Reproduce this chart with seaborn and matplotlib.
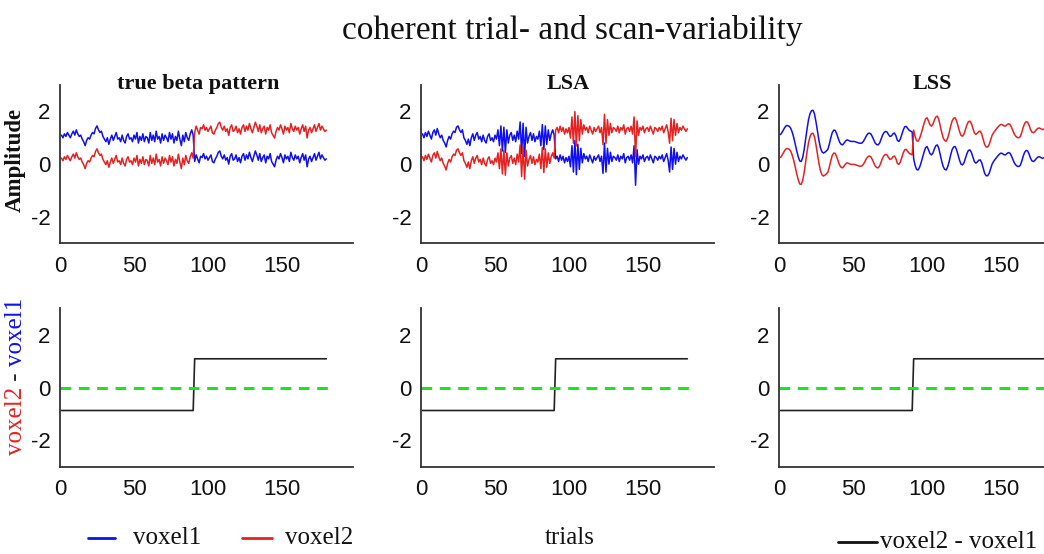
import numpy as np
import pandas as pd
import matplotlib
matplotlib.use("Agg")
import matplotlib.pyplot as plt
from matplotlib.lines import Line2D
import seaborn as sns

# ---------------- data ----------------
trials = list(range(1, 181))

# step difference voxel2 - voxel1 (first 90 trials, last 90 trials)
diff_first = -0.87
diff_second = 1.09
diff_true = [diff_first] * 90 + [diff_second] * 90

true_voxel1 = [
    1.10, 1.00, 1.15, 1.05, 1.20, 1.10, 1.00, 1.15, 1.25, 1.10,
    1.30, 1.15, 1.05, 1.10, 0.95, 0.85, 0.70, 0.90, 1.00, 0.95,
    1.10, 1.20, 1.15, 1.35, 1.45, 1.30, 1.20, 1.25, 1.05, 0.95,
    0.85, 1.00, 0.75, 0.95, 1.10, 0.90, 1.05, 1.20, 0.95, 1.00,
    0.85, 1.10, 0.90, 0.80, 1.05, 1.15, 0.95, 1.00, 0.85, 1.10,
    0.95, 1.20, 0.80, 1.05, 0.90, 1.15, 0.85, 1.05, 1.00, 0.80,
    1.20, 0.90, 1.10, 0.85, 1.25, 0.95, 1.05, 0.80, 1.15, 0.90,
    1.10, 1.00, 0.85, 1.20, 0.95, 1.15, 0.80, 1.05, 0.90, 1.25,
    0.95, 0.70, 1.10, 0.85, 1.20, 1.00, 0.90, 1.15, 1.30, 1.10,
    0.10, 0.35, 0.20, 0.05, 0.30, 0.25, 0.40, 0.20, 0.30, 0.15,
    0.25, 0.35, 0.10, 0.05, 0.20, 0.30, 0.45, 0.50, 0.30, 0.20,
    0.35, 0.15, 0.25, 0.00, 0.30, 0.40, 0.15, 0.20, 0.35, 0.10,
    0.25, 0.05, 0.30, 0.40, 0.15, 0.35, 0.20, 0.45, 0.25, 0.10,
    0.30, 0.50, 0.35, 0.15, 0.40, 0.10, 0.25, 0.35, 0.05, 0.30,
    0.20, 0.40, 0.10, 0.00, -0.10, 0.15, 0.30, 0.20, 0.40, 0.25,
    0.05, 0.35, 0.20, 0.30, 0.10, 0.45, 0.25, 0.15, 0.35, 0.20,
    0.30, 0.05, 0.25, 0.40, 0.15, 0.35, -0.10, 0.20, 0.30, 0.10,
    0.25, 0.40, 0.15, 0.30, 0.45, 0.20, 0.35, 0.25, 0.15, 0.20,
]

lsa_voxel1 = [
    1.15, 1.00, 1.20, 1.05, 1.25, 1.10, 0.95, 1.20, 1.30, 1.10,
    1.35, 1.15, 1.00, 1.10, 0.90, 0.80, 0.65, 0.90, 1.05, 0.95,
    1.15, 1.25, 1.20, 1.40, 1.45, 1.30, 1.20, 1.30, 1.00, 0.90,
    0.75, 0.95, 0.70, 1.00, 1.15, 0.90, 1.10, 1.20, 0.95, 1.05,
    0.85, 1.10, 0.90, 0.80, 1.05, 1.15, 0.90, 1.00, 0.85, 1.10,
    0.95, 1.30, 0.70, 1.45, 0.50, 1.40, 0.45, 1.30, 0.80, 1.10,
    1.20, 0.90, 1.10, 0.85, 1.25, 0.95, 1.60, 0.40, 1.55, 0.30,
    1.40, 0.80, 1.05, 1.20, 0.90, 1.15, 0.85, 1.05, 0.95, 1.25,
    0.70, 1.50, 0.55, 1.45, 0.75, 1.30, 0.90, 1.15, 1.30, 1.10,
    0.20, 0.30, 0.10, 0.35, 0.15, 0.30, 0.05, 0.25, 0.10, 0.30,
    -0.10, 0.70, -0.30, 0.90, -0.40, 0.75, -0.20, 0.60, 0.05, 0.40,
    0.20, 0.30, 0.10, 0.35, 0.20, 0.05, 0.30, 0.15, 0.25, 0.35,
    0.10, 0.30, -0.35, 0.80, -0.30, 0.60, 0.00, 0.45, 0.10, 0.30,
    0.25, 0.15, 0.35, 0.10, 0.30, 0.20, 0.40, 0.05, 0.25, 0.30,
    0.15, 0.35, 0.05, 0.70, -0.80, 0.55, 0.00, 0.30, 0.20, 0.35,
    0.10, 0.25, 0.30, 0.15, 0.35, 0.20, 0.05, 0.30, 0.25, 0.15,
    0.30, 0.20, 0.35, 0.10, 0.25, 0.40, 0.15, -0.30, 0.65, -0.20,
    0.60, 0.00, 0.45, 0.10, 0.30, 0.20, 0.35, 0.25, 0.15, 0.25,
]

lss_voxel1 = [
    1.12, 1.20, 1.30, 1.40, 1.46, 1.46, 1.43, 1.35, 1.20, 1.00,
    0.75, 0.50, 0.28, 0.12, 0.10, 0.25, 0.55, 0.95, 1.35, 1.70,
    1.92, 2.03, 2.04, 1.90, 1.60, 1.25, 0.90, 0.62, 0.47, 0.42,
    0.45, 0.50, 0.56, 0.75, 1.00, 1.20, 1.29, 1.28, 1.15, 0.98,
    0.83, 0.75, 0.73, 0.80, 0.88, 0.92, 0.90, 0.87, 0.86, 0.86,
    0.86, 0.84, 0.82, 0.80, 0.79, 0.80, 0.86, 0.96, 1.07, 1.15,
    1.18, 1.15, 1.05, 0.92, 0.80, 0.74, 0.73, 0.80, 0.95, 1.10,
    1.20, 1.24, 1.22, 1.12, 1.05, 1.07, 1.15, 1.18, 1.08, 0.90,
    0.86, 0.95, 1.12, 1.30, 1.42, 1.43, 1.35, 1.28, 1.25, 1.22,
    0.20, -0.05, -0.20, -0.22, -0.12, 0.05, 0.25, 0.45, 0.62, 0.67,
    0.55, 0.40, 0.35, 0.42, 0.58, 0.70, 0.73, 0.60, 0.35, 0.10,
    -0.10, -0.20, -0.22, -0.10, 0.10, 0.35, 0.55, 0.65, 0.67, 0.55,
    0.35, 0.15, 0.00, -0.03, 0.05, 0.22, 0.40, 0.52, 0.54, 0.45,
    0.28, 0.10, 0.04, 0.08, 0.15, 0.16, 0.05, -0.15, -0.35, -0.44,
    -0.44, -0.35, -0.18, 0.00, 0.10, 0.18, 0.25, 0.32, 0.38, 0.42,
    0.40, 0.36, 0.35, 0.40, 0.44, 0.42, 0.32, 0.18, 0.05, -0.03,
    -0.08, -0.09, -0.05, 0.10, 0.30, 0.45, 0.52, 0.50, 0.38, 0.22,
    0.12, 0.10, 0.15, 0.22, 0.27, 0.28, 0.25, 0.22, 0.24, 0.25,
]

panel_titles = ["true beta pattern", "LSA", "LSS"]
panel_voxel1 = [true_voxel1, lsa_voxel1, lss_voxel1]
zero_line_x = [0, 182]
zero_line_y = [0, 0]
x_ticks = [0, 50, 100, 150]
y_ticks = [-2, 0, 2]

# ---------------- style ----------------
sns.set_style("white")
plt.rcParams["font.family"] = ["Liberation Sans", "DejaVu Sans"]
plt.rcParams["axes.unicode_minus"] = False
SERIF = ["Liberation Serif", "DejaVu Serif"]
BLUE = "#1010ee"
RED = "#e52222"
GREEN = "#22e022"
AXC = "#333333"

fig = plt.figure(figsize=(10.44, 5.54), dpi=100)
W, H = 1044.0, 554.0

lefts = [60, 421, 779]
ax_w = 293
top_row = (243.3, 158.3)   # bottom pixel, height
bot_row = (466.7, 158.3)

title_centers = [198, 568, 932]


def style_axis(ax):
    ax.set_xlim(0, 198)
    ax.set_ylim(-3, 3)
    ax.set_xticks(x_ticks)
    ax.set_yticks(y_ticks)
    for s in ["top", "right"]:
        ax.spines[s].set_visible(False)
    for s in ["left", "bottom"]:
        ax.spines[s].set_color(AXC)
        ax.spines[s].set_linewidth(1.3)
    ax.tick_params(direction="in", length=4, width=1.0, color=AXC,
                   labelsize=16, labelcolor="#111111")
    ax.tick_params(axis="x", pad=9)
    ax.tick_params(axis="y", pad=7)
    ax.set_xlabel("")
    ax.set_ylabel("")
    ax.set_facecolor("white")


for i, v1 in enumerate(panel_voxel1):
    diff = diff_true
    v2 = [a + d for a, d in zip(v1, diff)]
    left = lefts[i] / W
    ax = fig.add_axes([left, 1 - top_row[0] / H, ax_w / W, top_row[1] / H])
    sns.lineplot(x=trials, y=v1, ax=ax, color=BLUE, lw=1.1, legend=False)
    sns.lineplot(x=trials, y=v2, ax=ax, color=RED, lw=1.1, legend=False)
    style_axis(ax)

    axb = fig.add_axes([left, 1 - bot_row[0] / H, ax_w / W, bot_row[1] / H])
    sns.lineplot(x=trials, y=[b - a for a, b in zip(v1, v2)], ax=axb,
                 color="#222222", lw=1.2, legend=False)
    sns.lineplot(x=zero_line_x, y=zero_line_y, ax=axb, color=GREEN, lw=2.2,
                 linestyle=(0, (3.5, 2.5)), legend=False)
    style_axis(axb)

    fig.text(title_centers[i] / W, 1 - 84 / H, panel_titles[i], family=SERIF,
             fontweight="bold", fontsize=16, ha="center", va="center",
             color="#111111")

# main title
fig.text(572 / W, 1 - 30 / H, "coherent trial- and scan-variability",
         family=SERIF, fontsize=24, ha="center", va="center", color="#111111")

# y labels
fig.text(15.5 / W, 1 - 160 / H, "Amplitude", family=SERIF, fontweight="bold",
         fontsize=16.5, rotation=90, ha="center", va="center", color="#111111")

renderer = fig.canvas.get_renderer()
ypos = 1 - 455 / H
for txt, col in [("voxel2", RED), (" - ", "#222222"), ("voxel1", BLUE)]:
    t = fig.text(15.5 / W, ypos, txt, family=SERIF, fontsize=18, rotation=90,
                 ha="center", va="bottom", color=col)
    bb = t.get_window_extent(renderer=renderer)
    ypos += bb.height / H

# bottom legend row
ly = 1 - 538 / H
fig.add_artist(Line2D([88 / W, 115 / W], [ly, ly], color=BLUE, lw=2))
fig.text(133 / W, ly, "voxel1", family=SERIF, fontsize=18, ha="left",
         va="center", color="#111111")
fig.add_artist(Line2D([242 / W, 272 / W], [ly, ly], color=RED, lw=2))
fig.text(285 / W, ly, "voxel2", family=SERIF, fontsize=18, ha="left",
         va="center", color="#111111")
fig.text(570 / W, ly, "trials", family=SERIF, fontsize=18, ha="center",
         va="center", color="#111111")
ly2 = 1 - 542 / H
fig.add_artist(Line2D([838 / W, 877 / W], [ly2, ly2], color="#111111", lw=2))
fig.text(880 / W, ly2, "voxel2 - voxel1", family=SERIF, fontsize=18,
         ha="left", va="center", color="#111111")

fig.savefig("out.png", dpi=100, facecolor="white")
